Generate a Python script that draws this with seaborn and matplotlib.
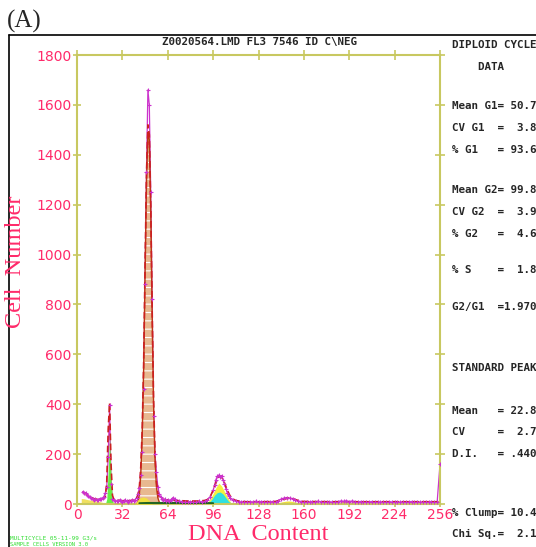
import matplotlib
matplotlib.use("Agg")
import matplotlib.pyplot as plt
import seaborn as sns

# measured histogram (channel, count)
data_ch = [4, 5, 6, 7, 8, 9, 10, 11, 12, 13, 14, 15, 16, 17, 18, 19, 20, 21, 22, 23,
           24, 25, 26, 27, 28, 29, 30, 31, 32, 33, 34, 35, 36, 37, 38, 39, 40, 41, 42, 43,
           44, 45, 46, 47, 48, 49, 50, 51, 52, 53, 54, 55, 56, 57, 58, 59, 60, 61, 62, 63,
           64, 65, 66, 67, 68, 69, 70, 72, 74, 76, 78, 80, 82, 84, 86, 88, 90, 92, 94, 96,
           97, 98, 99, 100, 101, 102, 103, 104, 105, 106, 107, 108, 110, 112, 114, 116, 118, 120, 122, 124,
           126, 128, 130, 132, 134, 136, 138, 140, 142, 144, 146, 148, 150, 152, 154, 156, 158, 160, 162, 164,
           166, 168, 170, 172, 174, 176, 178, 180, 182, 184, 186, 188, 190, 192, 194, 196, 198, 200, 202, 204,
           206, 208, 210, 212, 214, 216, 218, 220, 222, 224, 226, 228, 230, 232, 234, 236, 238, 240, 242, 244,
           246, 248, 250, 252, 254, 256]
data_cnt = [50, 46, 44, 38, 32, 28, 24, 22, 18, 20, 17, 18, 22, 20, 24, 30, 45, 70, 190, 395,
            80, 22, 18, 14, 12, 14, 16, 12, 10, 14, 16, 12, 10, 14, 12, 16, 14, 18, 26, 40,
            65, 118, 208, 460, 880, 1330, 1660, 1600, 1250, 820, 352, 200, 128, 70, 40, 28, 22, 16, 20, 14,
            18, 14, 16, 22, 26, 20, 14, 12, 10, 8, 10, 9, 10, 8, 11, 8, 12, 16, 30, 55,
            75, 98, 112, 116, 110, 114, 95, 80, 62, 45, 32, 24, 16, 12, 10, 8, 10, 9, 10, 8,
            11, 8, 10, 9, 10, 8, 10, 10, 14, 20, 24, 26, 24, 22, 18, 12, 10, 8, 10, 9,
            10, 8, 11, 9, 10, 8, 9, 8, 10, 10, 12, 11, 13, 10, 12, 10, 8, 10, 9, 10,
            8, 10, 9, 10, 8, 10, 9, 10, 8, 10, 9, 8, 10, 9, 8, 10, 9, 10, 8, 9,
            10, 8, 10, 9, 8, 160]

# total model fit
fit_ch = [4, 6, 8, 10, 12, 14, 16, 18, 19, 20, 21, 22, 23, 24, 25, 26, 28, 30, 32, 34,
          36, 38, 40, 42, 43, 44, 45, 46, 47, 48, 49, 50, 51, 52, 53, 54, 55, 56, 57, 58,
          60, 62, 64, 66, 68, 70, 74, 78, 82, 86, 90, 92, 94, 96, 98, 99, 100, 101, 102, 103,
          104, 106, 108, 110, 112, 116, 120, 130, 140, 144, 148, 150, 152, 156, 160, 180, 200, 220, 240, 255]
fit_cnt = [48, 42, 34, 26, 21, 19, 19, 20, 22, 30, 90, 300, 405, 160, 35, 18, 15, 14, 13, 13,
           13, 14, 15, 22, 35, 70, 150, 300, 560, 950, 1320, 1520, 1480, 1200, 780, 420, 200, 90, 45, 28,
           20, 17, 16, 15, 15, 14, 13, 12, 12, 12, 14, 18, 30, 55, 85, 100, 110, 112, 108, 98,
           85, 55, 32, 20, 14, 10, 9, 9, 10, 16, 22, 23, 21, 14, 10, 9, 9, 9, 9, 9]

# model components
debris_ch = [3, 5, 7, 9, 11, 13, 15, 17, 19]
debris_cnt = [22, 21, 18, 16, 15, 12, 11, 8, 5]
std_ch = [20, 21, 22, 23, 24, 25, 26]
std_cnt = [0, 20, 140, 275, 110, 15, 0]
g1_ch = [42, 43, 44, 45, 46, 47, 48, 49, 50, 51, 52, 53, 54, 55, 56, 57, 58, 59]
g1_cnt = [0, 10, 40, 120, 280, 540, 920, 1290, 1490, 1460, 1180, 760, 400, 180, 70, 25, 8, 0]
g1base_ch = [41, 43, 45, 47, 49, 51, 53]
g1base_cnt = [0, 18, 26, 28, 24, 14, 0]
s_ch = [44, 50, 60, 70, 80, 90, 96]
s_cnt = [3, 4, 4, 4, 4, 4, 3]
g2y_ch = [91, 94, 96, 98, 100, 102, 104, 106, 109]
g2y_cnt = [0, 20, 42, 66, 84, 72, 50, 28, 0]
g2c_ch = [92, 95, 97, 99, 101, 103, 105, 107, 110]
g2c_cnt = [0, 18, 35, 46, 48, 40, 25, 10, 0]
bump_ch = [140, 144, 148, 150, 152, 156, 160]
bump_cnt = [0, 8, 12, 12, 10, 5, 0]

x_ticks = [0, 32, 64, 96, 128, 160, 192, 224, 256]
y_ticks = [0, 200, 400, 600, 800, 1000, 1200, 1400, 1600, 1800]

stats_text = [
    "DIPLOID CYCLE", "    DATA", "Mean G1= 50.7", "CV G1  =  3.8", "% G1   = 93.6",
    "Mean G2= 99.8", "CV G2  =  3.9", "% G2   =  4.6", "% S    =  1.8", "G2/G1  =1.970",
    "STANDARD PEAK", "Mean   = 22.8", "CV     =  2.7", "D.I.   = .440",
    "% Clump= 10.4", "Chi Sq.=  2.1",
]
stats_y = [45, 67, 106, 128, 150, 190, 212, 234, 270, 307, 368, 411, 432, 454, 513, 534]

sns.set_style("white")
plt.rcParams["hatch.linewidth"] = 0.8

W, H = 536, 547
fig = plt.figure(figsize=(W / 100, H / 100), dpi=100)
ax = fig.add_axes([77 / W, 1 - 504 / H, 363 / W, 449 / H])

axis_col = "#c8c860"
pink = "#ff2a6a"
purple = "#cc33cc"

# raw data line under the fills, markers above
ax.plot(data_ch, data_cnt, color=purple, lw=0.9, zorder=1)

# component fills
ax.fill_between(debris_ch, debris_cnt, color="#f0e060", lw=0, zorder=2)
ax.fill_between(std_ch, std_cnt, color="#66ee44", lw=0, zorder=2)
ax.fill_between(g1_ch, g1_cnt, facecolor="#e8b890", edgecolor="white", hatch="--", lw=0, zorder=2)
ax.plot(g1_ch, g1_cnt, color="#b83a10", lw=1.0, zorder=3)
ax.fill_between(g1base_ch, g1base_cnt, color="#f0e040", lw=0, zorder=3)
ax.fill_between(g2y_ch, g2y_cnt, color="#f4f040", lw=0, zorder=2)
ax.fill_between(g2c_ch, g2c_cnt, color="#30e0e0", lw=0, zorder=2)
ax.fill_between(bump_ch, bump_cnt, color="#f0e040", lw=0, zorder=2)
sns.lineplot(x=s_ch, y=s_cnt, ax=ax, color="#226622", lw=1.5, zorder=3)

# fitted total and raw data markers
sns.lineplot(x=fit_ch, y=fit_cnt, ax=ax, color="#cc2020", lw=1.2,
             linestyle=(0, (4, 2)), zorder=4)
sns.scatterplot(x=data_ch, y=data_cnt, ax=ax, color=purple, marker="+", s=8,
                linewidth=0.8, zorder=5)

ax.set_xlim(0, 256)
ax.set_ylim(0, 1800)
ax.set_xticks(x_ticks)
ax.set_yticks(y_ticks)
ax.set_xticklabels([str(v) for v in x_ticks], color=pink, fontsize=10)
ax.set_yticklabels([str(v) for v in y_ticks], color=pink, fontsize=10)
ax.set_xlabel("")
ax.set_ylabel("")
for s in ax.spines.values():
    s.set_visible(True)
    s.set_color(axis_col)
    s.set_linewidth(1.5)
ax.tick_params(axis="both", color=axis_col, width=1.2, length=6,
               direction="inout", bottom=True, left=True, pad=1)
ax.tick_params(axis="x", length=4)
sec_top = ax.secondary_xaxis("top")
sec_top.set_xticks(x_ticks)
sec_top.set_xticklabels([])
sec_top.tick_params(color=axis_col, direction="inout", length=7, width=1.2)
sec_top.spines["top"].set_visible(False)
sec_r = ax.secondary_yaxis("right")
sec_r.set_yticks(y_ticks)
sec_r.set_yticklabels([])
sec_r.tick_params(color=axis_col, direction="inout", length=7, width=1.2)
sec_r.spines["right"].set_visible(False)

# axis titles
fig.text(258 / W, 1 - 535 / H, "DNA  Content", family="Liberation Serif", fontsize=17.5,
         color=pink, ha="center", va="center")
fig.text(16 / W, 1 - 262 / H, "Cell  Number", family="Liberation Serif", fontsize=17.5,
         color=pink, ha="center", va="center", rotation=90)

# header
fig.text(259 / W, 1 - 42 / H, "Z0020564.LMD FL3 7546 ID C\\NEG", family="DejaVu Sans Mono",
         fontsize=7.8, fontweight="bold", ha="center", va="center")
fig.text(7 / W, 1 - 21 / H, "(A)", family="Liberation Serif", fontsize=18,
         ha="left", va="center")

# frame
fig.add_artist(plt.Line2D([9 / W, 9 / W], [0, 1 - 35 / H], transform=fig.transFigure,
                          color="black", lw=1.2))
fig.add_artist(plt.Line2D([9 / W, 1], [1 - 35 / H, 1 - 35 / H], transform=fig.transFigure,
                          color="black", lw=1.2))

# statistics panel
for txt, yy in zip(stats_text, stats_y):
    fig.text(452 / W, 1 - yy / H, txt, family="DejaVu Sans Mono", fontsize=7.8,
             fontweight="bold", ha="left", va="center")

fig.text(10 / W, 1 - 538 / H, "MULTICYCLE 05-11-99 G3/s", family="DejaVu Sans Mono",
         fontsize=4.3, color="#33dd33", ha="left", va="center")
fig.text(10 / W, 1 - 544 / H, "SAMPLE CELLS VERSION 3.0", family="DejaVu Sans Mono",
         fontsize=4.0, color="#33dd33", ha="left", va="center")

fig.savefig("out.png", dpi=100)
